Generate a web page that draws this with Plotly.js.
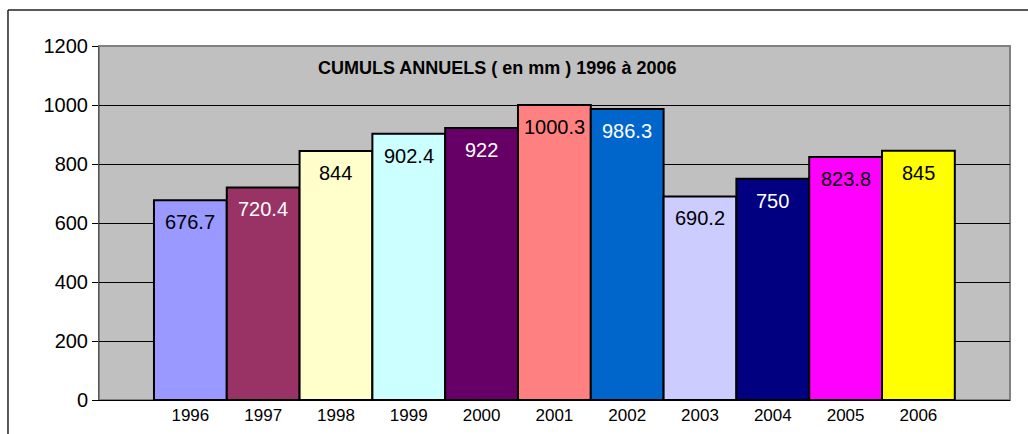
<!DOCTYPE html>
<html>
<head>
<meta charset="utf-8">
<script src="https://cdn.plot.ly/plotly-3.0.1.min.js"></script>
<style>html,body{margin:0;padding:0;background:#fff;overflow:hidden;}#chart{width:1028px;height:434px;}</style>
</head>
<body>
<div id="chart"></div>
<script>
var years = ['1996','1997','1998','1999','2000','2001','2002','2003','2004','2005','2006'];
var cumuls = [676.7, 720.4, 844, 902.4, 922, 1000.3, 986.3, 690.2, 750, 823.8, 845];
var labels = ['676.7','720.4','844','902.4','922','1000.3','986.3','690.2','750','823.8','845'];
var barColors = ['#9999FF','#993366','#FFFFCC','#CCFFFF','#660066','#FF8080','#0066CC','#CCCCFF','#000080','#FF00FF','#FFFF00'];
var labelColors = ['#000','#fff','#000','#000','#fff','#000','#fff','#000','#fff','#000','#000'];
var yTicks = [0, 200, 400, 600, 800, 1000, 1200];
var titleText = 'CUMULS ANNUELS ( en mm ) 1996 à 2006';

var FONT = 'Liberation Sans, Arial, sans-serif';
var idx = years.map(function(_, i){ return i; });

var trace = {
  type: 'bar',
  x: idx,
  y: cumuls,
  marker: {color: barColors, line: {color: '#000', width: 2}},
  hoverinfo: 'none'
};

var annotations = idx.map(function(i){
  return {text: labels[i], x: i, y: cumuls[i], xref: 'x', yref: 'y',
    xanchor: 'center', yanchor: 'top', yshift: -9, showarrow: false,
    font: {family: FONT, size: 20, color: labelColors[i]}};
});
annotations.push({text: '<b>' + titleText + '</b>', xref: 'paper', yref: 'paper',
  x: 0.4366, y: 0.938, xanchor: 'center', yanchor: 'middle', showarrow: false,
  font: {size: 18, color: '#000', family: FONT}});

var layout = {
  width: 1028, height: 434,
  margin: {l: 99, r: 18, t: 46, b: 34, pad: 0},
  paper_bgcolor: '#ffffff',
  plot_bgcolor: '#C0C0C0',
  showlegend: false,
  bargap: 0,
  font: {family: FONT, color: '#000'},
  xaxis: {
    range: [-1.255, 11.258],
    tickmode: 'array',
    tickvals: idx,
    ticktext: years,
    ticks: '',
    showgrid: false,
    zeroline: false,
    showline: true, linecolor: '#000', linewidth: 1,
    tickfont: {size: 17, color: '#000'},
    fixedrange: true
  },
  yaxis: {
    range: [0, 1200],
    tickmode: 'array',
    tickvals: yTicks,
    ticktext: yTicks.map(String),
    ticks: 'outside', ticklen: 6, tickcolor: '#000', tickwidth: 1,
    showgrid: true, gridcolor: '#000', gridwidth: 1,
    zeroline: false,
    showline: true, linecolor: '#555', linewidth: 1,
    tickfont: {size: 20, color: '#000'},
    fixedrange: true
  },
  shapes: [
    {type: 'rect', xref: 'paper', yref: 'paper', x0: 0, x1: 1, y0: 0, y1: 1,
     line: {color: '#808080', width: 2}, layer: 'below'},
    {type: 'line', xref: 'paper', yref: 'paper', x0: -0.0999, x1: 1.03, y0: 1.1017, y1: 1.1017,
     line: {color: '#222', width: 1.5}},
    {type: 'line', xref: 'paper', yref: 'paper', x0: -0.0999, x1: -0.0999, y0: 1.1017, y1: -0.12,
     line: {color: '#222', width: 1.5}}
  ],
  annotations: annotations
};

Plotly.newPlot('chart', [trace], layout, {displayModeBar: false, staticPlot: true});
</script>
</body>
</html>
